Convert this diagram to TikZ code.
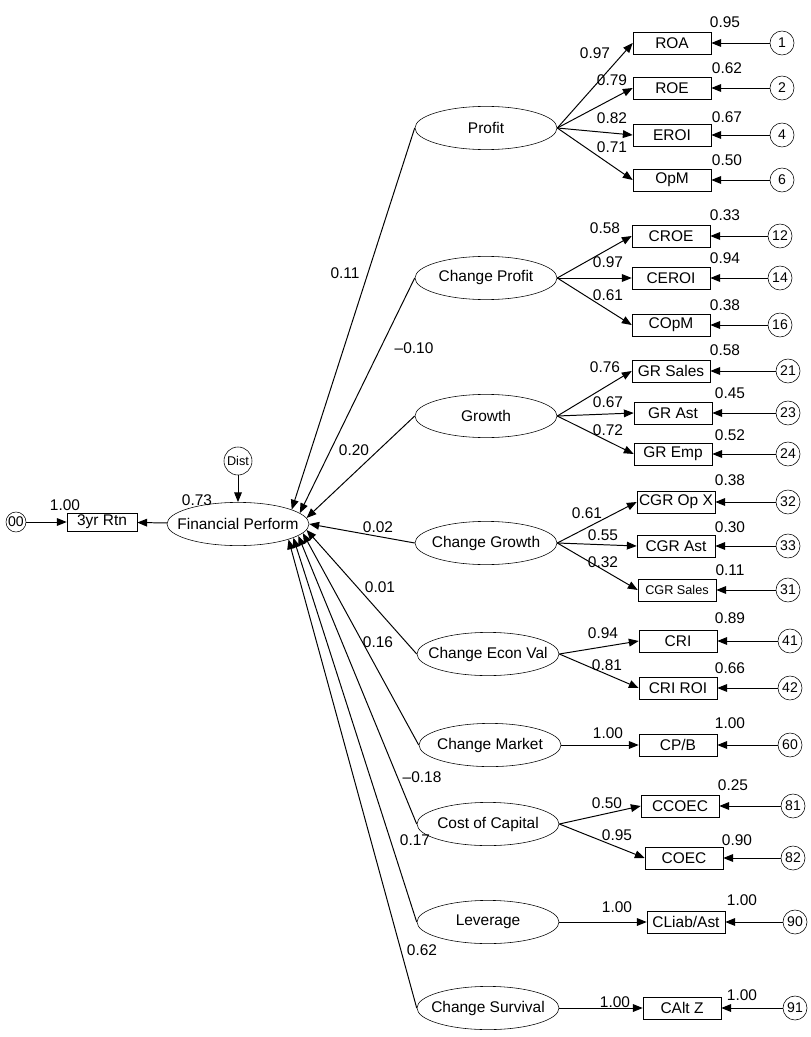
\documentclass[tikz,border=0pt]{standalone}
\usepackage{fontspec}
\setmainfont{Liberation Sans}
\usepackage{tikz}
\usetikzlibrary{shapes.geometric,arrows.meta,positioning}

\begin{document}
\begin{tikzpicture}[
  x=0.025cm, y=-0.025cm,
  latent/.style={draw, ellipse, minimum width=3.55cm, minimum height=1.08cm, inner xsep=-0.5cm, inner ysep=0pt, font=\fontsize{11}{13}\selectfont},
  indic/.style={draw, rectangle, minimum width=1.95cm, minimum height=0.55cm, inner sep=1pt, font=\fontsize{11}{13}\selectfont},
  err/.style={draw, circle, minimum size=0.6cm, inner sep=0pt, font=\fontsize{10}{11}\selectfont},
  coef/.style={inner sep=0pt, font=\fontsize{11}{13}\selectfont},
  arr/.style={-{Triangle[length=7pt,width=5.5pt]}, line width=0.7pt}
]
  \useasboundingbox (0,0) rectangle (810,1037);

  % outcome side
  \node[latent] (fp) at (238,524) {Financial Perform};
  \node[err, minimum size=0.7cm, font=\fontsize{9}{10}\selectfont] (dist) at (238,461) {Dist};
  \node[indic, minimum width=1.75cm, minimum height=0.45cm] (rtn) at (102,522) {3yr Rtn};
  \node[err, minimum size=0.5cm] (e00) at (16,522) {00};
  \node[coef] (r-rtn) at (65,505) {1.00};
  \node[coef] (r-fp) at (197,500) {0.73};

  \draw[arr] (dist) -- (fp);
  \draw[arr] (fp) -- (rtn);
  \draw[arr] (e00) -- (rtn);

  % latent factors
  \node[latent] (prof)  at (486,128)  {Profit};
  \node[latent] (cprof) at (486,278)  {Change Profit};
  \node[latent] (grow)  at (486,416)  {Growth};
  \node[latent] (cgrow) at (486,543)  {Change Growth};
  \node[latent] (cecon) at (488,654)  {Change Econ Val};
  \node[latent] (cmkt)  at (490,745)  {Change Market};
  \node[latent] (coc)   at (488,824)  {Cost of Capital};
  \node[latent] (lev)   at (488,922)  {Leverage};
  \node[latent] (csurv) at (488,1008) {Change Survival};

  \draw[arr] (prof.west)  -- (fp.15);
  \draw[arr] (cprof.west) -- (fp.10);
  \draw[arr] (grow.west)  -- (fp.5);
  \draw[arr] (cgrow.west) -- (fp.east);
  \draw[arr] (cecon.west) -- (fp.-5);
  \draw[arr] (cmkt.west)  -- (fp.-8);
  \draw[arr] (coc.west)   -- (fp.-11);
  \draw[arr] (lev.west)   -- (fp.-14);
  \draw[arr] (csurv.west) -- (fp.-17);

  \node[coef] (b-prof)  at (345,273) {0.11};
  \node[coef] (b-cprof) at (414,348) {--0.10};
  \node[coef] (b-grow)  at (354,450) {0.20};
  \node[coef] (b-cgrow) at (378,527) {0.02};
  \node[coef] (b-cecon) at (380,587) {0.01};
  \node[coef] (b-cmkt)  at (378,642) {0.16};
  \node[coef] (b-coc)   at (422,777) {--0.18};
  \node[coef] (b-lev)   at (415,840) {0.17};
  \node[coef] (b-csurv) at (422,950) {0.62};

  % indicators
  \node[indic] (roa)   at (672,43)  {ROA};
  \node[indic] (roe)   at (672,88)  {ROE};
  \node[indic] (eroi)  at (672,135) {EROI};
  \node[indic] (opm)   at (672,180) {OpM};
  \node[indic] (croe)  at (671,236) {CROE};
  \node[indic] (ceroi) at (671,278) {CEROI};
  \node[indic] (copm)  at (671,325) {COpM};
  \node[indic] (grsales) at (671,371) {GR Sales};
  \node[indic] (grast) at (673,413) {GR Ast};
  \node[indic] (gremp) at (673,454) {GR Emp};
  \node[indic] (cgropx) at (676,502) {CGR Op X};
  \node[indic] (cgrast) at (676,546) {CGR Ast};
  \node[indic, font=\fontsize{9}{10}\selectfont] (cgrsales) at (677,590) {CGR Sales};
  \node[indic] (cri)   at (678,641) {CRI};
  \node[indic] (criroi) at (678,688) {CRI ROI};
  \node[indic] (cpb)   at (678,745) {CP/B};
  \node[indic] (ccoec) at (680,806) {CCOEC};
  \node[indic] (coec)  at (684,858) {COEC};
  \node[indic] (cliab) at (686,922) {CLiab/Ast};
  \node[indic] (caltz) at (682,1008) {CAlt Z};

  \draw[arr] (prof.east)  -- (roa.west);
  \draw[arr] (prof.east)  -- (roe.west);
  \draw[arr] (prof.east)  -- (eroi.west);
  \draw[arr] (prof.east)  -- (opm.west);
  \draw[arr] (cprof.east) -- (croe.west);
  \draw[arr] (cprof.east) -- (ceroi.west);
  \draw[arr] (cprof.east) -- (copm.west);
  \draw[arr] (grow.east)  -- (grsales.west);
  \draw[arr] (grow.east)  -- (grast.west);
  \draw[arr] (grow.east)  -- (gremp.west);
  \draw[arr] (cgrow.east) -- (cgropx.west);
  \draw[arr] (cgrow.east) -- (cgrast.west);
  \draw[arr] (cgrow.east) -- (cgrsales.west);
  \draw[arr] (cecon.east) -- (cri.west);
  \draw[arr] (cecon.east) -- (criroi.west);
  \draw[arr] (cmkt.east)  -- (cpb.west);
  \draw[arr] (coc.east)   -- (ccoec.west);
  \draw[arr] (coc.east)   -- (coec.west);
  \draw[arr] (lev.east)   -- (cliab.west);
  \draw[arr] (csurv.east) -- (caltz.west);

  % loadings
  \node[coef] (l-roa)   at (595,53)  {0.97};
  \node[coef] (l-roe)   at (612,80)  {0.79};
  \node[coef] (l-eroi)  at (612,118) {0.82};
  \node[coef] (l-opm)   at (612,147) {0.71};
  \node[coef] (l-croe)  at (605,228) {0.58};
  \node[coef] (l-ceroi) at (608,262) {0.97};
  \node[coef] (l-copm)  at (608,295) {0.61};
  \node[coef] (l-grsales) at (605,367) {0.76};
  \node[coef] (l-grast) at (608,402) {0.67};
  \node[coef] (l-gremp) at (608,430) {0.72};
  \node[coef] (l-cgropx) at (587,513) {0.61};
  \node[coef] (l-cgrast) at (603,535) {0.55};
  \node[coef] (l-cgrsales) at (603,562) {0.32};
  \node[coef] (l-cri)   at (603,633) {0.94};
  \node[coef] (l-criroi) at (607,665) {0.81};
  \node[coef] (l-cpb)   at (608,733) {1.00};
  \node[coef] (l-ccoec) at (607,803) {0.50};
  \node[coef] (l-coec)  at (617,835) {0.95};
  \node[coef] (l-cliab) at (617,907) {1.00};
  \node[coef] (l-caltz) at (615,1002) {1.00};

  % error terms
  \node[err] (e1)  at (782,43)  {1};
  \node[err] (e2)  at (782,88)  {2};
  \node[err] (e4)  at (782,135) {4};
  \node[err] (e6)  at (782,180) {6};
  \node[err] (e12) at (780,236) {12};
  \node[err] (e14) at (780,278) {14};
  \node[err] (e16) at (780,325) {16};
  \node[err] (e21) at (788,371) {21};
  \node[err] (e23) at (788,413) {23};
  \node[err] (e24) at (788,454) {24};
  \node[err] (e32) at (788,502) {32};
  \node[err] (e33) at (788,546) {33};
  \node[err] (e31) at (788,590) {31};
  \node[err] (e41) at (790,641) {41};
  \node[err] (e42) at (790,688) {42};
  \node[err] (e60) at (790,745) {60};
  \node[err] (e81) at (793,806) {81};
  \node[err] (e82) at (793,858) {82};
  \node[err] (e90) at (795,922) {90};
  \node[err] (e91) at (795,1008) {91};

  \draw[arr] (e1)  -- (roa);
  \draw[arr] (e2)  -- (roe);
  \draw[arr] (e4)  -- (eroi);
  \draw[arr] (e6)  -- (opm);
  \draw[arr] (e12) -- (croe);
  \draw[arr] (e14) -- (ceroi);
  \draw[arr] (e16) -- (copm);
  \draw[arr] (e21) -- (grsales);
  \draw[arr] (e23) -- (grast);
  \draw[arr] (e24) -- (gremp);
  \draw[arr] (e32) -- (cgropx);
  \draw[arr] (e33) -- (cgrast);
  \draw[arr] (e31) -- (cgrsales);
  \draw[arr] (e41) -- (cri);
  \draw[arr] (e42) -- (criroi);
  \draw[arr] (e60) -- (cpb);
  \draw[arr] (e81) -- (ccoec);
  \draw[arr] (e82) -- (coec);
  \draw[arr] (e90) -- (cliab);
  \draw[arr] (e91) -- (caltz);

  % squared multiple correlations
  \node[coef] (r-roa)   at (725,22)  {0.95};
  \node[coef] (r-roe)   at (727,68)  {0.62};
  \node[coef] (r-eroi)  at (727,117) {0.67};
  \node[coef] (r-opm)   at (727,160) {0.50};
  \node[coef] (r-croe)  at (725,215) {0.33};
  \node[coef] (r-ceroi) at (725,258) {0.94};
  \node[coef] (r-copm)  at (725,305) {0.38};
  \node[coef] (r-grsales) at (725,350) {0.58};
  \node[coef] (r-grast) at (730,393) {0.45};
  \node[coef] (r-gremp) at (730,435) {0.52};
  \node[coef] (r-cgropx) at (730,480) {0.38};
  \node[coef] (r-cgrast) at (730,527) {0.30};
  \node[coef] (r-cgrsales) at (730,570) {0.11};
  \node[coef] (r-cri)   at (730,618) {0.89};
  \node[coef] (r-criroi) at (730,668) {0.66};
  \node[coef] (r-cpb)   at (730,723) {1.00};
  \node[coef] (r-ccoec) at (733,785) {0.25};
  \node[coef] (r-coec)  at (737,840) {0.90};
  \node[coef] (r-cliab) at (742,900) {1.00};
  \node[coef] (r-caltz) at (742,995) {1.00};
\end{tikzpicture}
\end{document}
